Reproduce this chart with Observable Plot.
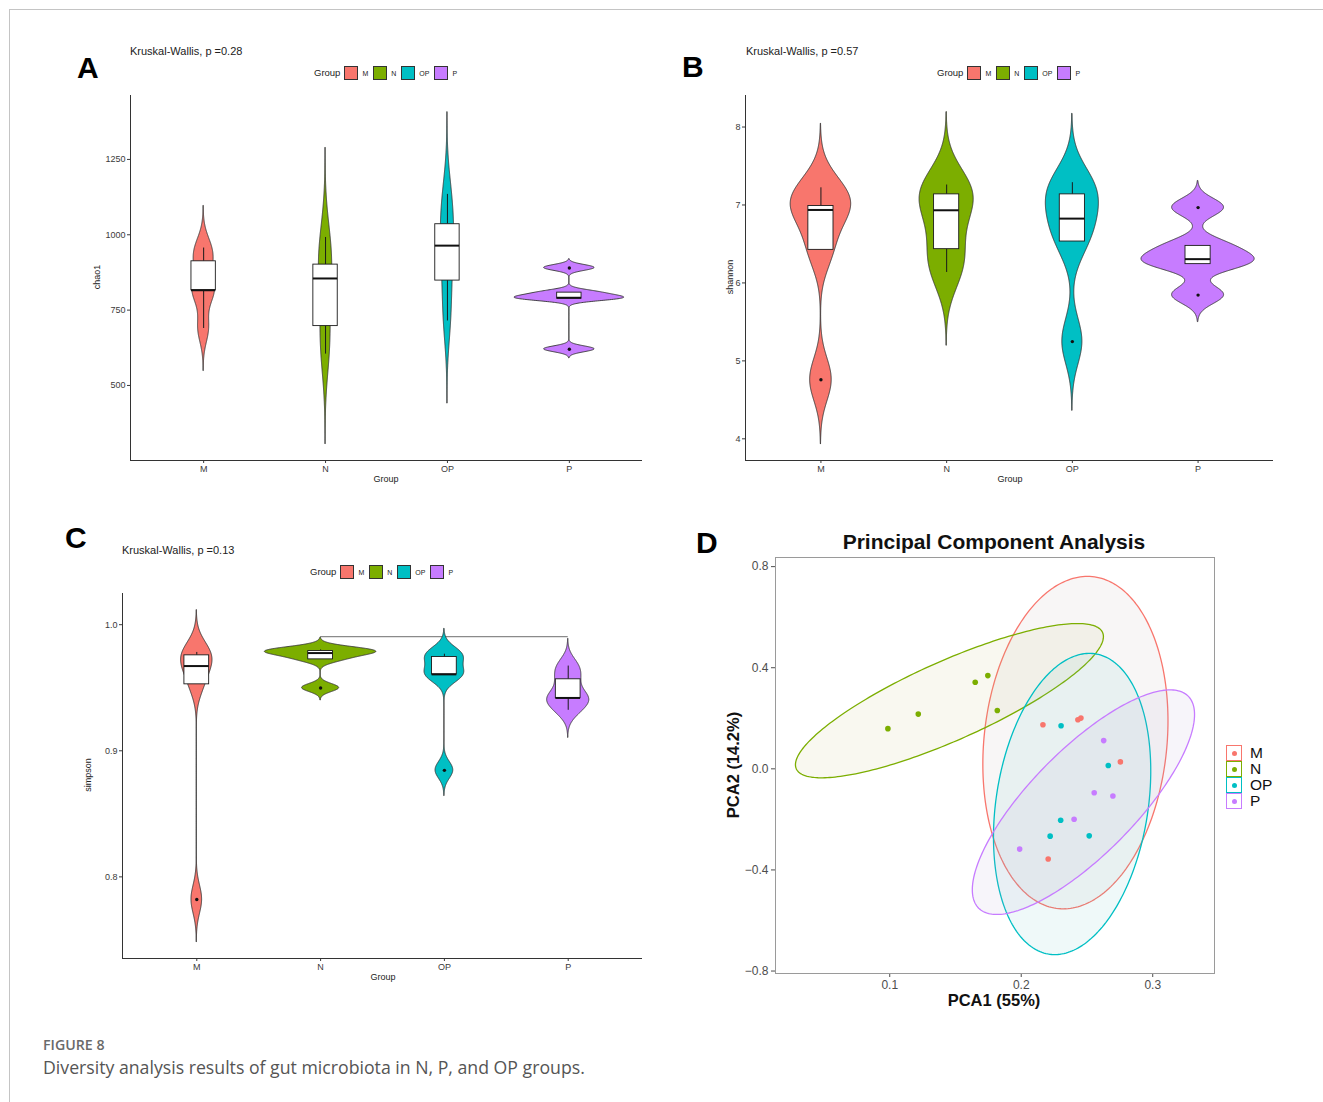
<!DOCTYPE html>
<html>
<head>
<meta charset="utf-8">
<script src="https://cdn.jsdelivr.net/npm/d3@7"></script>
<script src="https://cdn.jsdelivr.net/npm/@observablehq/plot@0.6"></script>
<style>
  html, body { margin: 0; padding: 0; background: #fff; }
  #fig { position: relative; width: 1323px; height: 1102px; overflow: hidden; font-family: "Liberation Sans", Arial, sans-serif; background: #fff; }
  .abs { position: absolute; white-space: nowrap; line-height: 1; }
  .panel { position: absolute; }
  .panel svg { display: block; }
</style>
</head>
<body>
<div id="fig"></div>
<script>
// ---------------- DATA ----------------
const groups = ["M", "N", "OP", "P"];
const groupColors = ["#F8766D", "#7CAE00", "#00BFC4", "#C77CFF"];

// Panel A: chao1 (per-sample values)
const chao1_M  = [689, 816, 816, 912, 956];
const chao1_N  = [604, 697, 855, 901, 991];
const chao1_OP = [714, 848, 964, 1035, 1134];
const chao1_P  = [620, 788, 791, 808, 890];
const chao1Ticks = [500, 750, 1000, 1250];

// Panel B: shannon
const shannon_M  = [4.757, 6.424, 6.936, 6.987, 7.22];
const shannon_N  = [6.134, 6.433, 6.932, 7.136, 7.256];
const shannon_OP = [5.247, 6.531, 6.825, 7.136, 7.286];
const shannon_P  = [5.844, 6.241, 6.305, 6.475, 6.966];
const shannonTicks = [4, 5, 6, 7, 8];

// Panel C: simpson
const simpson_M  = [0.782, 0.9527, 0.9672, 0.9757, 0.978];
const simpson_N  = [0.9498, 0.9725, 0.9775, 0.9791, 0.980];
const simpson_OP = [0.8845, 0.9606, 0.9606, 0.9744, 0.9766];
const simpson_P  = [0.9321, 0.9419, 0.9419, 0.9567, 0.9672];
const simpsonTicks = [0.8, 0.9, 1.0];
const simpsonBracketFrom = 2, simpsonBracketTo = 4, simpsonBracketY = 0.9905;

// Panel D: PCA scores
const pcaGroup = ["M","M","M","M","M", "N","N","N","N","N", "OP","OP","OP","OP","OP", "P","P","P","P","P"];
const pca1 = [0.2165, 0.2431, 0.2454, 0.2754, 0.2205,
              0.0986, 0.1217, 0.1650, 0.1746, 0.1818,
              0.2303, 0.2662, 0.2300, 0.2220, 0.2517,
              0.2627, 0.2555, 0.2697, 0.2402, 0.1988];
const pca2 = [0.1746, 0.1943, 0.2008, 0.0276, -0.357,
              0.159, 0.2166, 0.3426, 0.3688, 0.231,
              0.1706, 0.0131, -0.2034, -0.2664, -0.2651,
              0.1116, -0.0945, -0.1076, -0.1995, -0.3176];
const pcaXTicks = [0.1, 0.2, 0.3];
const pcaYTicks = [-0.8, -0.4, 0, 0.4, 0.8];
// 95% ellipses (centre, half x-extent, half y-extent, correlation)
const ellGroup = ["M", "N", "OP", "P"];
const ellCx  = [0.2412, 0.1454, 0.2387, 0.2473];
const ellCy  = [0.1037, 0.2697, -0.1391, -0.1319];
const ellW   = [0.0704, 0.1171, 0.0598, 0.0845];
const ellH   = [0.6576, 0.3052, 0.5959, 0.4443];
const ellRho = [0.13, 0.83, 0.22, 0.78];
const ellFill = ["#b9a9a6", "#c8b96a", "#5fc4c6", "#b59ad0"];

// ---------------- HELPERS ----------------
const fig = document.getElementById("fig");
function addDiv(html, css) {
  const d = document.createElement("div");
  d.className = "abs";
  d.innerHTML = html;
  Object.assign(d.style, css);
  fig.appendChild(d);
  return d;
}
function place(svg, left, top) {
  const w = document.createElement("div");
  w.className = "panel";
  w.style.left = left + "px";
  w.style.top = top + "px";
  w.appendChild(svg);
  fig.appendChild(w);
}
// Gaussian KDE as in ggplot2 geom_violin (bw.nrd0, trim = FALSE)
function kde(vals, n = 512) {
  const sd = d3.deviation(vals);
  const s = vals.slice().sort(d3.ascending);
  const iqr = d3.quantile(s, 0.75) - d3.quantile(s, 0.25);
  const lo = Math.min(sd, iqr / 1.34);
  const bw = 0.9 * lo * Math.pow(vals.length, -0.2);
  const [mn, mx] = d3.extent(vals);
  const from = mn - 3 * bw, to = mx + 3 * bw;
  return d3.range(n).map(i => {
    const y = from + (to - from) * i / (n - 1);
    const d = d3.sum(vals, v => Math.exp(-0.5 * ((y - v) / bw) ** 2)) / (vals.length * bw * Math.sqrt(2 * Math.PI));
    return {y, d};
  });
}
function boxStats(vals, i) {
  const s = vals.slice().sort(d3.ascending);
  const q1 = d3.quantile(s, 0.25), med = d3.quantile(s, 0.5), q3 = d3.quantile(s, 0.75);
  const iqr = q3 - q1;
  const loF = q1 - 1.5 * iqr - 1e-9, hiF = q3 + 1.5 * iqr + 1e-9;
  const inside = s.filter(v => v >= loF && v <= hiF);
  return {pos: i + 1, q1, med, q3, lo: d3.min(inside), hi: d3.max(inside), out: s.filter(v => v < loF || v > hiF)};
}

function violinPlot(samples, o) {
  const dens = samples.map(v => kde(v));
  const maxD = d3.max(dens, ds => d3.max(ds, p => p.d));
  const violin = dens.flatMap((ds, i) => ds.map(p => ({
    g: groups[i], y: p.y,
    x1: i + 1 - 0.45 * p.d / maxD,
    x2: i + 1 + 0.45 * p.d / maxD
  })));
  const [ylo, yhi] = d3.extent(violin, d => d.y);
  const pad = (yhi - ylo) * 0.05;
  const y0 = ylo - pad;
  const stats = samples.map(boxStats);
  const outliers = stats.flatMap(s => s.out.map(v => ({pos: s.pos, v})));
  const hw = 0.1;
  return Plot.plot({
    width: o.width, height: o.height,
    marginLeft: o.ml, marginRight: o.mr, marginTop: o.mt, marginBottom: o.mb,
    style: {fontFamily: "'Liberation Sans', Arial, sans-serif", fontSize: "9px", color: "#3a3a3a", background: "transparent"},
    x: {type: "linear", domain: [0.4, 4.6], ticks: [1, 2, 3, 4], tickFormat: d => groups[d - 1], tickSize: 3, tickPadding: 2, label: null},
    y: {domain: [y0, yhi + pad], ticks: o.ticks, tickFormat: o.tickFormat, tickSize: 3, tickPadding: 2, label: null},
    color: {domain: groups, range: groupColors},
    marks: [
      ...(o.extra || []),
      Plot.areaX(violin, {y: "y", x1: "x1", x2: "x2", z: "g", fill: "g", stroke: "#333", strokeWidth: 0.9, curve: "linear"}),
      Plot.ruleX(stats, {x: "pos", y1: "lo", y2: "q1", stroke: "#1a1a1a", strokeWidth: 1}),
      Plot.ruleX(stats, {x: "pos", y1: "q3", y2: "hi", stroke: "#1a1a1a", strokeWidth: 1}),
      Plot.rect(stats, {x1: d => d.pos - hw, x2: d => d.pos + hw, y1: "q1", y2: "q3", fill: "white", stroke: "#1a1a1a", strokeWidth: 0.9}),
      Plot.ruleY(stats, {y: "med", x1: d => d.pos - hw, x2: d => d.pos + hw, stroke: "#111", strokeWidth: 2}),
      Plot.dot(outliers, {x: "pos", y: "v", r: 1.7, fill: "#111", stroke: null}),
      Plot.ruleX([0.4], {stroke: "#333", strokeWidth: 1}),
      Plot.ruleY([y0], {stroke: "#333", strokeWidth: 1})
    ]
  });
}

function ggLegend(left, cy) {
  const d = document.createElement("div");
  d.className = "abs";
  Object.assign(d.style, {left: left + "px", top: cy + "px", transform: "translateY(-50%)", display: "flex", alignItems: "center"});
  let html = `<span style="font-size:9.5px;color:#222">Group</span>`;
  groups.forEach((g, i) => {
    html += `<span style="display:inline-block;width:12px;height:12px;border:1px solid #333;background:${groupColors[i]};margin-left:${i === 0 ? 4 : 5}px"></span>`;
    html += `<span style="font-size:7px;color:#222;margin-left:4px">${g}</span>`;
  });
  d.innerHTML = html;
  fig.appendChild(d);
}

// ---------------- PAGE FRAME ----------------
addDiv("", {left: "9px", top: "9px", width: "1314px", height: "0px", borderTop: "1px solid #c4c4c4"});
addDiv("", {left: "9px", top: "9px", width: "0px", height: "1093px", borderLeft: "1px solid #c4c4c4"});

// ---------------- PANEL A ----------------
place(violinPlot([chao1_M, chao1_N, chao1_OP, chao1_P], {
  width: 600, height: 400, ml: 70, mr: 18, mt: 5, mb: 30,
  ticks: chao1Ticks, tickFormat: d3.format("d")
}), 60, 90);
addDiv("A", {left: "77px", top: "68px", fontSize: "30px", fontWeight: "bold", color: "#000", transform: "translateY(-50%)"});
addDiv("Kruskal-Wallis, p =0.28", {left: "130px", top: "51px", fontSize: "11px", color: "#222", transform: "translateY(-50%)"});
ggLegend(314, 73);
addDiv("chao1", {left: "97px", top: "277px", fontSize: "9px", color: "#222", transform: "translate(-50%,-50%) rotate(-90deg)"});
addDiv("Group", {left: "386px", top: "479px", fontSize: "9px", color: "#222", transform: "translate(-50%,-50%)"});

// ---------------- PANEL B ----------------
place(violinPlot([shannon_M, shannon_N, shannon_OP, shannon_P], {
  width: 620, height: 400, ml: 65, mr: 27, mt: 5, mb: 30,
  ticks: shannonTicks, tickFormat: d3.format("d")
}), 680, 90);
addDiv("B", {left: "682px", top: "67px", fontSize: "30px", fontWeight: "bold", color: "#000", transform: "translateY(-50%)"});
addDiv("Kruskal-Wallis, p =0.57", {left: "746px", top: "51px", fontSize: "11px", color: "#222", transform: "translateY(-50%)"});
ggLegend(937, 73);
addDiv("shannon", {left: "730px", top: "277px", fontSize: "9px", color: "#222", transform: "translate(-50%,-50%) rotate(-90deg)"});
addDiv("Group", {left: "1010px", top: "479px", fontSize: "9px", color: "#222", transform: "translate(-50%,-50%)"});

// ---------------- PANEL C ----------------
place(violinPlot([simpson_M, simpson_N, simpson_OP, simpson_P], {
  width: 600, height: 400, ml: 62, mr: 18, mt: 5, mb: 30,
  ticks: simpsonTicks, tickFormat: d3.format(".1f"),
  extra: [Plot.ruleY([simpsonBracketY], {x1: simpsonBracketFrom, x2: simpsonBracketTo, stroke: "#8a8a8a", strokeWidth: 1.3})]
}), 60, 588);
addDiv("C", {left: "65px", top: "538px", fontSize: "30px", fontWeight: "bold", color: "#000", transform: "translateY(-50%)"});
addDiv("Kruskal-Wallis, p =0.13", {left: "122px", top: "550px", fontSize: "11px", color: "#222", transform: "translateY(-50%)"});
ggLegend(310, 572);
addDiv("simpson", {left: "88px", top: "775px", fontSize: "9px", color: "#222", transform: "translate(-50%,-50%) rotate(-90deg)"});
addDiv("Group", {left: "383px", top: "977px", fontSize: "9px", color: "#222", transform: "translate(-50%,-50%)"});

// ---------------- PANEL D ----------------
const ellPts = ellGroup.flatMap((g, i) => {
  const phi = Math.acos(ellRho[i]);
  return d3.range(241).map(k => {
    const s = 2 * Math.PI * k / 240;
    return {g, x: ellCx[i] + ellW[i] * Math.cos(s), y: ellCy[i] + ellH[i] * Math.cos(s - phi)};
  });
});
const pcaRows = pcaGroup.map((g, i) => ({g, x: pca1[i], y: pca2[i]}));
const [exlo, exhi] = d3.extent([...ellPts.map(d => d.x), ...pca1]);
const [eylo, eyhi] = d3.extent([...ellPts.map(d => d.y), ...pca2]);
const exPad = (exhi - exlo) * 0.05, eyPad = (eyhi - eylo) * 0.05;

const pcaPlot = Plot.plot({
  width: 540, height: 490, marginLeft: 85, marginRight: 16, marginTop: 27, marginBottom: 47,
  style: {fontFamily: "'Liberation Sans', Arial, sans-serif", fontSize: "12px", color: "#4d4d4d", background: "transparent"},
  x: {domain: [exlo - exPad, exhi + exPad], ticks: pcaXTicks, tickFormat: d3.format(".1f"), tickSize: 4, tickPadding: 3, label: null},
  y: {domain: [eylo - eyPad, eyhi + eyPad], ticks: pcaYTicks, tickFormat: d3.format(".1f"), tickSize: 4, tickPadding: 3, label: null},
  color: {domain: groups, range: groupColors},
  marks: [
    ...ellGroup.map((g, i) => Plot.line(ellPts.filter(d => d.g === g), {
      x: "x", y: "y", stroke: groupColors[i], fill: ellFill[i], fillOpacity: 0.1, strokeWidth: 1.3, curve: "linear"
    })),
    Plot.dot(pcaRows, {x: "x", y: "y", fill: "g", r: 2.8, stroke: null}),
    Plot.frame({stroke: "#9a9a9a", strokeWidth: 1})
  ]
});
place(pcaPlot, 690, 530);
addDiv("D", {left: "696px", top: "543px", fontSize: "30px", fontWeight: "bold", color: "#000", transform: "translateY(-50%)"});
addDiv("Principal Component Analysis", {left: "994px", top: "541px", fontSize: "21px", fontWeight: "bold", color: "#111", transform: "translate(-50%,-50%)"});
addDiv("PCA1 (55%)", {left: "994px", top: "1000px", fontSize: "16.5px", fontWeight: "bold", color: "#111", transform: "translate(-50%,-50%)"});
addDiv("PCA2 (14.2%)", {left: "733px", top: "765px", fontSize: "16.5px", fontWeight: "bold", color: "#111", transform: "translate(-50%,-50%) rotate(-90deg)"});
// D legend
(function() {
  const d = document.createElement("div");
  d.className = "abs";
  Object.assign(d.style, {left: "1226px", top: "745px"});
  d.innerHTML = groups.map((g, i) =>
    `<div style="display:flex;align-items:center;height:16px">` +
    `<span style="position:relative;display:inline-block;box-sizing:border-box;width:16px;height:16px;border:1px solid ${groupColors[i]};background:#fff">` +
    `<span style="position:absolute;left:5px;top:5px;width:5px;height:5px;border-radius:50%;background:${groupColors[i]}"></span></span>` +
    `<span style="font-size:15.5px;color:#111;margin-left:8px">${g}</span></div>`).join("");
  fig.appendChild(d);
})();

// ---------------- CAPTION ----------------
addDiv("FIGURE 8", {left: "43px", top: "1045px", fontFamily: "'Open Sans', Lato, sans-serif", fontSize: "14.2px", fontWeight: "600", color: "#6a6a6a", transform: "translateY(-50%)"});
addDiv("Diversity analysis results of gut microbiota in N, P, and OP groups.", {left: "43px", top: "1068px", fontFamily: "'Open Sans', Lato, sans-serif", fontSize: "17.7px", color: "#555", transform: "translateY(-50%)"});
</script>
</body>
</html>
